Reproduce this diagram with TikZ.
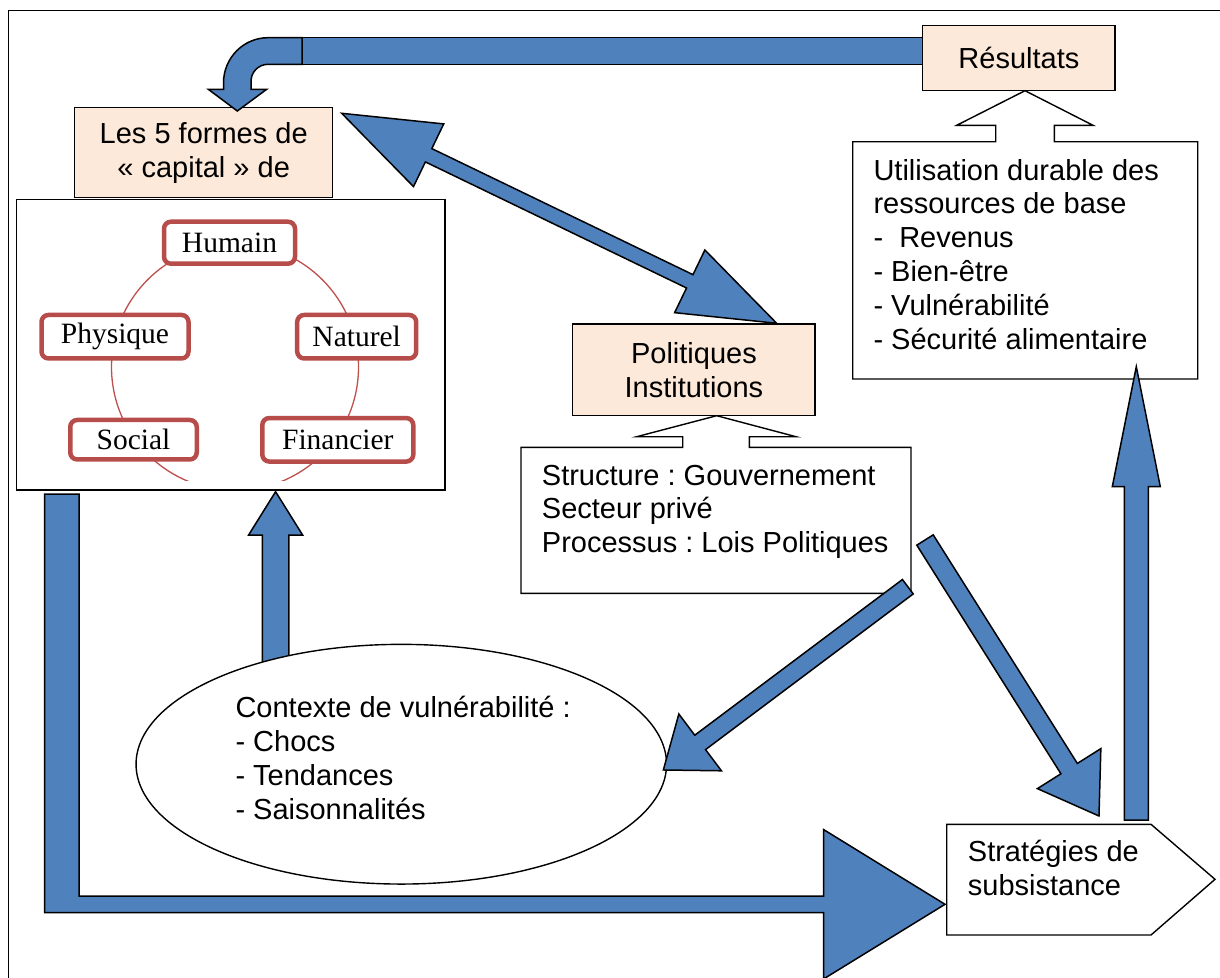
\documentclass[tikz,border=0pt]{standalone}
\usepackage{fontspec}
\setmainfont{Liberation Sans}
\newfontfamily\capserif{Liberation Serif}
\usetikzlibrary{shapes.geometric,calc}
\definecolor{peach}{HTML}{FDE9D9}
\definecolor{arrowblue}{HTML}{4F81BD}
\definecolor{capred}{HTML}{B74D4A}
\definecolor{ringred}{HTML}{C0504D}
\frenchspacing

\newcommand\getdir[2]{%
  \path let \p1=(#1),\p2=(#2) in \pgfextra{%
    \pgfmathparse{atan2(\y2-\y1,\x2-\x1)}\xdef\baAng{\pgfmathresult}%
    \pgfmathparse{veclen(\x2-\x1,\y2-\y1)}\xdef\baLen{\pgfmathresult}};}

% #1 tail, #2 tip, #3 shaft half width, #4 head length, #5 head half width
\newcommand\blockarrow[5]{%
  \getdir{#1}{#2}%
  \begin{scope}[shift={(#1)},rotate=\baAng]
    \draw[bluearrow] (0,#3) -- ({\baLen-#4},#3) -- ({\baLen-#4},#5) -- (\baLen,0)
      -- ({\baLen-#4},-#5) -- ({\baLen-#4},-#3) -- (0,-#3) -- cycle;
  \end{scope}}

\newcommand\doubleblockarrow[5]{%
  \getdir{#1}{#2}%
  \begin{scope}[shift={(#1)},rotate=\baAng]
    \draw[bluearrow] (0,0) -- (#4,#5) -- (#4,#3) -- ({\baLen-#4},#3) -- ({\baLen-#4},#5) -- (\baLen,0)
      -- ({\baLen-#4},-#5) -- ({\baLen-#4},-#3) -- (#4,-#3) -- (#4,-#5) -- cycle;
  \end{scope}}

\begin{document}
\frenchspacing
\begin{tikzpicture}[x=1pt,y=-1pt,
  boxline/.style={draw=black,line width=1.4pt,inner sep=0pt},
  peachbox/.style={boxline,fill=peach,align=center,font=\fontsize{29}{34}\selectfont},
  capnode/.style={draw=capred,line width=4.5pt,rounded corners=7pt,fill=white,inner sep=0pt,
    font=\capserif\fontsize{29.5}{34}\selectfont},
  txt/.style={inner sep=0pt,anchor=base west,font=\fontsize{29}{33.8}\selectfont},
  bluearrow/.style={fill=arrowblue,draw=black,line width=1.5pt,line join=miter}]

\useasboundingbox (0,0) rectangle (1220,977);
\fill[white] (0,0) rectangle (1220,977);
\draw[line width=1.3pt] (8.3,985) -- (8.3,10.6) -- (1230,10.6);

% ---- capital frame and the five forms
\node[boxline,fill=white,minimum width=428.7pt,minimum height=290.7pt] (capframe) at (230.7,344.7) {};
\begin{scope}
  \clip (17,200) rectangle (444,480);
  \draw[ringred,line width=1.3pt] (235,367) circle[radius=123.5pt];
\end{scope}
\node[capnode,minimum width=131pt,minimum height=42pt] (humain) at (229.5,242.7) {Humain};
\node[capnode,minimum width=147pt,minimum height=43.5pt] (physique) at (115,336.7) {Physique};
\node[capnode,minimum width=119pt,minimum height=43.5pt] (naturel) at (356.7,336.7) {Naturel};
\node[capnode,minimum width=126.5pt,minimum height=39.5pt] (social) at (133.5,439.7) {Social};
\node[capnode,minimum width=151pt,minimum height=43.5pt] (financier) at (337.8,439.8) {Financier};

\node[peachbox,minimum width=258pt,minimum height=89.6pt] (formes) at (203.7,152.5)
  {Les 5 formes de\\« capital » de};

% ---- top bar from Résultats
\draw[bluearrow] (302,37.7) rectangle (922.7,64.3);
\node[peachbox,minimum width=192.3pt,minimum height=65pt] (resultats) at (1018.9,58.2) {Résultats};

% ---- Utilisation callout
\draw[boxline,fill=white] (852.7,141.7) -- (995.7,141.7) -- (995.7,125.3) -- (956.7,125.3)
  -- (1025,90.7) -- (1093,125.3) -- (1054.3,125.3) -- (1054.3,141.7) -- (1197.7,141.7)
  -- (1197.7,379) -- (852.7,379) -- cycle;
\node[txt] (utiltxt) at (873.3,180) {\begin{tabular}[t]{@{}l@{}}Utilisation durable des\\
  ressources de base\\- \ Revenus\\- Bien-être\\- Vulnérabilité\\- Sécurité alimentaire\end{tabular}};

% ---- Politiques / Structure
\node[peachbox,minimum width=242.3pt,minimum height=91.7pt] (politiques) at (693.9,369.9)
  {Politiques\\Institutions};
\draw[boxline,fill=white] (521,447.3) -- (682.7,447.3) -- (682.7,436.7) -- (636.7,436.7)
  -- (716.7,415.7) -- (796,436.7) -- (749.3,436.7) -- (749.3,447.3) -- (911,447.3)
  -- (911,593.3) -- (521,593.3) -- cycle;
\node[txt] (structtxt) at (541.7,485) {\begin{tabular}[t]{@{}l@{}}Structure : Gouvernement\\
  Secteur privé\\Processus : Lois Politiques\end{tabular}};

% ---- bent arrow into the capital box
\draw[bluearrow] (302,37.7) -- (268,37.7) .. controls (243.4,37.7) and (223.5,58) .. (223.5,83)
  -- (223.5,89.3) -- (208.3,89.3) -- (237.3,111) -- (266.7,89.3) -- (251,89.3) -- (251,81.3)
  .. controls (251,72) and (258.6,64.3) .. (268,64.3) -- (302,64.3) -- cycle;

% ---- double arrow capital <-> politiques
\coordinate (dTipA) at (341.7,113.3);
\coordinate (dTipB) at (776.7,323.3);
\doubleblockarrow{dTipA}{dTipB}{7.4}{96.5}{34.8}

% ---- upward arrow into capital box
\coordinate (upCapTail) at (275.6,662);
\coordinate (upCapTip) at (275.6,491.7);
\blockarrow{upCapTail}{upCapTip}{13.2}{43.3}{27}

% ---- vulnerability context
\node[draw=black,line width=1.4pt,fill=white,ellipse,minimum width=530.5pt,minimum height=239.7pt,
  inner sep=0pt] (contexte) at (401.3,764.2) {};
\node[txt] (contextetxt) at (235.3,717.7) {\begin{tabular}[t]{@{}l@{}}Contexte de vulnérabilité :\\
  - Chocs\\- Tendances\\- Saisonnalités\end{tabular}};

% ---- L arrow from capital to strategies
\draw[bluearrow] (44.6,494) -- (79,494) -- (79,896) -- (823.5,896) -- (823.5,829.5)
  -- (945,904.3) -- (823.5,979) -- (823.5,912.5) -- (44.6,912.5) -- cycle;

% ---- strategies
\draw[boxline,fill=white] (946.7,824.3) -- (1151,824.3) -- (1215,879.3) -- (1151,935)
  -- (946.7,935) -- cycle;
\node[txt] (strattxt) at (967.7,861.7) {\begin{tabular}[t]{@{}l@{}}Stratégies de\\subsistance\end{tabular}};

% ---- remaining arrows
\coordinate (polEllTail) at (907.8,586.7);
\coordinate (polEllTip) at (663.3,770);
\blockarrow{polEllTail}{polEllTip}{9}{46}{35.5}
\coordinate (polStrTail) at (925,540);
\coordinate (polStrTip) at (1099,816);
\blockarrow{polStrTail}{polStrTip}{9.7}{56}{37.5}
\coordinate (upResTail) at (1136.3,820);
\coordinate (upResTip) at (1136.3,366.7);
\blockarrow{upResTail}{upResTip}{12}{120}{24}
\end{tikzpicture}
\end{document}
